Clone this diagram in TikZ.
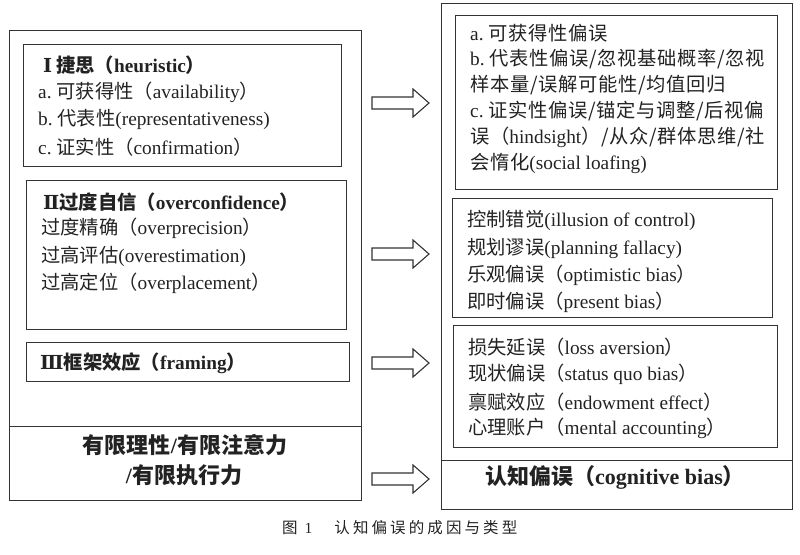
\documentclass[tikz,border=0pt]{standalone}
\usepackage{fontspec}
\setmainfont{Liberation Serif}
\newfontfamily\zh{Noto Sans CJK SC}
\newfontfamily\zha[LetterSpace=3.5]{Noto Sans CJK SC}
\newfontfamily\zhcap[LetterSpace=20]{Noto Sans CJK SC}
\newfontfamily\rnum{DejaVu Serif}
\newcommand{\z}[1]{{\zh #1}}
\newcommand{\za}[1]{{\zha #1}}
\newcommand{\rn}[1]{{\rnum #1}}
\definecolor{linec}{HTML}{333333}
\definecolor{textc}{HTML}{222222}
\begin{document}
\begin{tikzpicture}[x=1pt,y=-1pt,
  frame/.style={draw=linec, line width=1.2pt, anchor=north west, inner sep=0pt},
  txt/.style={anchor=west, inner sep=0pt, text=textc, font=\fontsize{19.3}{22}\selectfont},
  hd/.style={txt, font=\fontsize{19.3}{22}\selectfont\bfseries},
  ctr/.style={anchor=center, inner sep=0pt, text=textc, font=\fontsize{22}{26}\selectfont\bfseries},
  blockarrow/.pic={\draw[line width=1.1pt, draw=linec, fill=white, line join=miter]
     (-28.5,-6) -- (12.5,-6) -- (12.5,-14) -- (28.5,0) -- (12.5,14) -- (12.5,6) -- (-28.5,6) -- cycle;}
]
\useasboundingbox (0,0) rectangle (800,554);

% left column
\node[frame, minimum width=352pt, minimum height=470pt] (left) at (9,30) {};
\node[frame, minimum width=352pt, minimum height=74pt] (bounded) at (9,426) {};
\node[frame, minimum width=318pt, minimum height=122pt] (heur) at (23,44) {};
\node[frame, minimum width=320pt, minimum height=149pt] (over) at (26,180) {};
\node[frame, minimum width=323pt, minimum height=39pt] (fram) at (26,342) {};

\node[hd] (h1) at (43,65) {\rn{Ⅰ}\hspace{4pt}\z{捷思（}heuristic\z{）}};
\node[txt] (h1a) at (38,92) {a.~\z{可获得性（}availability\z{）}};
\node[txt] (h1b) at (38,119) {b.~\z{代表性}(representativeness)};
\node[txt] (h1c) at (38,147) {c.~\z{证实性（}confirmation\z{）}};

\node[hd] (h2) at (43,202) {\rn{Ⅱ}\z{过度自信（}overconfidence\z{）}};
\node[txt] (h2a) at (41,228) {\z{过度精确（}overprecision\z{）}};
\node[txt] (h2b) at (41,256) {\z{过高评估}(overestimation)};
\node[txt] (h2c) at (41,283) {\z{过高定位（}overplacement\z{）}};

\node[hd] (h3) at (40,363) {\rn{Ⅲ}\z{框架效应（}framing\z{）}};

\node[ctr] (b1) at (185,445) {\z{有限理性}/\z{有限注意力}};
\node[ctr] (b2) at (184,475) {/\z{有限执行力}};

% right column
\node[frame, minimum width=351pt, minimum height=506pt] (right) at (441,3) {};
\node[frame, minimum width=351pt, minimum height=49pt] (biasbox) at (441,460) {};
\node[frame, minimum width=322pt, minimum height=174pt] (ra) at (455,15) {};
\node[frame, minimum width=320pt, minimum height=119pt] (rb) at (452,198) {};
\node[frame, minimum width=324pt, minimum height=122pt] (rc) at (453,325) {};

\node[txt] (ra1) at (470,33) {a.~\za{可获得性偏误}};
\node[txt] (ra2) at (470,59) {b.~\za{代表性偏误/忽视基础概率/忽视}};
\node[txt] (ra3) at (470,85) {\za{样本量/误解可能性/均值回归}};
\node[txt] (ra4) at (470,111) {c.~\za{证实性偏误/锚定与调整/后视偏}};
\node[txt] (ra5) at (470,137) {\za{误（}hindsight\za{）/从众/群体思维/社}};
\node[txt] (ra6) at (470,163) {\za{会惰化}(social loafing)};

\node[txt] (rb1) at (467,220) {\z{控制错觉}(illusion of control)};
\node[txt] (rb2) at (467,248) {\z{规划谬误}(planning fallacy)};
\node[txt] (rb3) at (467,275) {\z{乐观偏误（}optimistic bias\z{）}};
\node[txt] (rb4) at (467,302) {\z{即时偏误（}present bias\z{）}};

\node[txt] (rc1) at (468,347) {\z{损失延误（}loss aversion\z{）}};
\node[txt] (rc2) at (468,374) {\z{现状偏误（}status quo bias\z{）}};
\node[txt] (rc3) at (468,402) {\z{禀赋效应（}endowment effect\z{）}};
\node[txt] (rc4) at (468,428) {\z{心理账户（}mental accounting\z{）}};

\node[ctr] (bias) at (615,477) {\z{认知偏误（}cognitive bias\z{）}};

% block arrows
\pic (ar1) at (400.5,103) {blockarrow};
\pic (ar2) at (400.5,254) {blockarrow};
\pic (ar3) at (400.5,363) {blockarrow};
\pic (ar4) at (400.5,479) {blockarrow};

% caption
\node[anchor=west, inner sep=0pt, text=textc, font=\fontsize{15.5}{18}\selectfont] (cap) at (282,528)
  {\z{图}\hspace{7pt}1\hspace{22pt}{\zhcap 认知偏误的成因与类型}};
\end{tikzpicture}
\end{document}
